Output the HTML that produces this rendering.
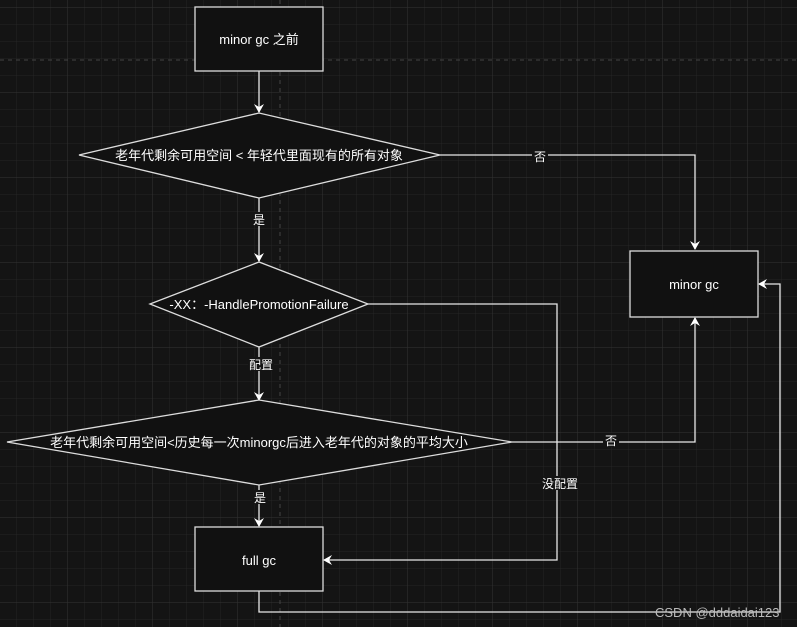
<!DOCTYPE html>
<html><head><meta charset="utf-8"><style>
html,body{margin:0;padding:0;background:#141414;}
svg{display:block;}
text{font-family:"Liberation Sans","Noto Sans CJK SC",sans-serif;fill:#fff;font-size:13px;}
</style></head><body>
<svg width="797" height="627" xmlns="http://www.w3.org/2000/svg">
<defs>
<pattern id="minor" width="17" height="17" patternUnits="userSpaceOnUse" x="16" y="7">
<path d="M0 0H17M0 0V17" stroke="#252525" stroke-width="1" fill="none"/>
</pattern>
<pattern id="major" width="85" height="85" patternUnits="userSpaceOnUse" x="67" y="7">
<path d="M0 0H85M0 0V85" stroke="#333" stroke-width="1" fill="none"/>
</pattern>
<marker id="ar" markerWidth="10" markerHeight="10" refX="8" refY="5" orient="auto" markerUnits="userSpaceOnUse">
<path d="M0 0L9 5L0 10L3 5Z" fill="#fff"/>
</marker>
</defs>
<rect width="797" height="627" fill="#141414"/>
<rect width="797" height="627" fill="url(#minor)"/>
<rect width="797" height="627" fill="url(#major)"/>
<line x1="0" y1="60" x2="797" y2="60" stroke="#444" stroke-dasharray="4 4"/>
<line x1="280" y1="0" x2="280" y2="627" stroke="#444" stroke-dasharray="4 4"/>

<g stroke="#e8e8e8" stroke-width="1.3" fill="none">
<line x1="259" y1="71" x2="259" y2="112" marker-end="url(#ar)"/>
<polyline points="440,155 695,155 695,249" marker-end="url(#ar)"/>
<line x1="259" y1="198" x2="259" y2="261" marker-end="url(#ar)"/>
<polyline points="368,304 557,304 557,560 324,560" marker-end="url(#ar)"/>
<line x1="259" y1="347" x2="259" y2="400" marker-end="url(#ar)"/>
<polyline points="512,442 695,442 695,318" marker-end="url(#ar)"/>
<line x1="259" y1="485" x2="259" y2="526" marker-end="url(#ar)"/>
<polyline points="259,591 259,612 780,612 780,284 759,284" marker-end="url(#ar)"/>
</g>

<g stroke="#ddd" stroke-width="1.3" fill="#111">
<rect x="195" y="7" width="128" height="64"/>
<polygon points="79,155 259,113 440,155 259,198"/>
<polygon points="150,304 259,262 368,304 259,347"/>
<polygon points="7,442 259,400 512,442 259,485"/>
<rect x="195" y="527" width="128" height="64"/>
<rect x="630" y="251" width="128" height="66"/>
</g>

<g text-anchor="middle">
<text x="259" y="44">minor gc 之前</text>
<text x="259" y="160">老年代剩余可用空间 &lt; 年轻代里面现有的所有对象</text>
<text x="259" y="309">-XX：-HandlePromotionFailure</text>
<text x="259" y="447">老年代剩余可用空间&lt;历史每一次minorgc后进入老年代的对象的平均大小</text>
<text x="259" y="565">full gc</text>
<text x="694" y="289">minor gc</text>
</g>
<g text-anchor="middle" style="font-size:12px">
<rect x="532" y="149" width="16" height="14" fill="#141414"/>
<text x="540" y="161" style="font-size:12px">否</text>
<rect x="251" y="212" width="16" height="14" fill="#141414"/>
<text x="259" y="224" style="font-size:12px">是</text>
<rect x="248" y="357" width="26" height="14" fill="#141414"/>
<text x="261" y="369" style="font-size:12px">配置</text>
<rect x="603" y="433" width="16" height="14" fill="#141414"/>
<text x="611" y="445" style="font-size:12px">否</text>
<rect x="252" y="490" width="16" height="14" fill="#141414"/>
<text x="260" y="502" style="font-size:12px">是</text>
<rect x="541" y="476" width="38" height="14" fill="#141414"/>
<text x="560" y="488" style="font-size:12px">没配置</text>
</g>
<text x="655" y="617" style="fill:#bbb;font-size:13px">CSDN @dddaidai123</text>
</svg>
</body></html>
